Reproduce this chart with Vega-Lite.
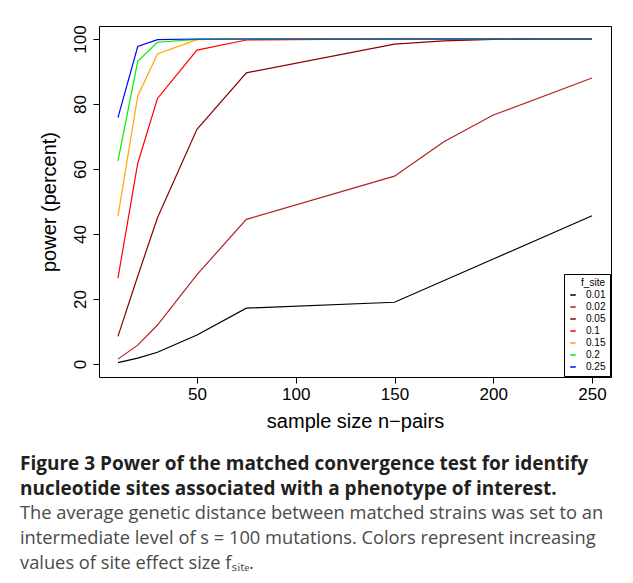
{
  "$schema": "https://vega.github.io/schema/vega-lite/v6.json",
  "autosize": {"type": "none"},
  "padding": {"left": 99, "top": 26, "right": 22, "bottom": 206},
  "width": 512,
  "height": 351,
  "background": "white",
  "title": {
    "text": ["Figure 3 Power of the matched convergence test for identify", "nucleotide sites associated with a phenotype of interest."],
    "subtitle": ["The average genetic distance between matched strains was set to an", "intermediate level of s = 100 mutations. Colors represent increasing", "values of site effect size fₛᵢₜₑ."],
    "orient": "bottom",
    "anchor": "start",
    "frame": "group",
    "dx": -79,
    "offset": 24,
    "font": "Open Sans",
    "fontSize": 19,
    "fontWeight": "bold",
    "color": "#231f20",
    "lineHeight": 25,
    "subtitleFont": "Open Sans",
    "subtitleFontSize": 18.3,
    "subtitleColor": "#4a4a4a",
    "subtitleLineHeight": 25,
    "subtitlePadding": 6
  },
  "data": {
    "values": [
      {"n": 10, "power": 0.4, "f_site": "0.01"},
      {"n": 20, "power": 1.8, "f_site": "0.01"},
      {"n": 30, "power": 3.6, "f_site": "0.01"},
      {"n": 50, "power": 8.9, "f_site": "0.01"},
      {"n": 75, "power": 17.2, "f_site": "0.01"},
      {"n": 150, "power": 19.0, "f_site": "0.01"},
      {"n": 200, "power": 32.3, "f_site": "0.01"},
      {"n": 250, "power": 45.6, "f_site": "0.01"},

      {"n": 10, "power": 1.5, "f_site": "0.02"},
      {"n": 20, "power": 5.8, "f_site": "0.02"},
      {"n": 30, "power": 12.0, "f_site": "0.02"},
      {"n": 50, "power": 27.5, "f_site": "0.02"},
      {"n": 75, "power": 44.5, "f_site": "0.02"},
      {"n": 150, "power": 57.8, "f_site": "0.02"},
      {"n": 175, "power": 68.4, "f_site": "0.02"},
      {"n": 200, "power": 76.6, "f_site": "0.02"},
      {"n": 250, "power": 88.0, "f_site": "0.02"},

      {"n": 10, "power": 8.5, "f_site": "0.05"},
      {"n": 20, "power": 27.0, "f_site": "0.05"},
      {"n": 30, "power": 45.0, "f_site": "0.05"},
      {"n": 50, "power": 72.2, "f_site": "0.05"},
      {"n": 75, "power": 89.6, "f_site": "0.05"},
      {"n": 150, "power": 98.4, "f_site": "0.05"},
      {"n": 175, "power": 99.4, "f_site": "0.05"},
      {"n": 200, "power": 99.9, "f_site": "0.05"},
      {"n": 250, "power": 100.0, "f_site": "0.05"},

      {"n": 10, "power": 26.4, "f_site": "0.1"},
      {"n": 20, "power": 61.7, "f_site": "0.1"},
      {"n": 30, "power": 81.7, "f_site": "0.1"},
      {"n": 50, "power": 96.6, "f_site": "0.1"},
      {"n": 75, "power": 99.7, "f_site": "0.1"},
      {"n": 150, "power": 100.0, "f_site": "0.1"},
      {"n": 250, "power": 100.0, "f_site": "0.1"},

      {"n": 10, "power": 45.5, "f_site": "0.15"},
      {"n": 20, "power": 82.4, "f_site": "0.15"},
      {"n": 30, "power": 95.4, "f_site": "0.15"},
      {"n": 50, "power": 99.8, "f_site": "0.15"},
      {"n": 75, "power": 100.0, "f_site": "0.15"},
      {"n": 250, "power": 100.0, "f_site": "0.15"},

      {"n": 10, "power": 62.5, "f_site": "0.2"},
      {"n": 20, "power": 93.1, "f_site": "0.2"},
      {"n": 30, "power": 99.0, "f_site": "0.2"},
      {"n": 50, "power": 99.9, "f_site": "0.2"},
      {"n": 75, "power": 100.0, "f_site": "0.2"},
      {"n": 250, "power": 100.0, "f_site": "0.2"},

      {"n": 10, "power": 75.8, "f_site": "0.25"},
      {"n": 20, "power": 97.7, "f_site": "0.25"},
      {"n": 30, "power": 99.8, "f_site": "0.25"},
      {"n": 50, "power": 100.0, "f_site": "0.25"},
      {"n": 250, "power": 100.0, "f_site": "0.25"}
    ]
  },
  "mark": {"type": "line", "strokeWidth": 1.2, "clip": true},
  "encoding": {
    "x": {
      "field": "n",
      "type": "quantitative",
      "scale": {"domain": [0.4, 259.6], "nice": false, "zero": false},
      "axis": {"values": [50, 100, 150, 200, 250], "title": "sample size n−pairs", "labelPadding": 3, "titlePadding": 9}
    },
    "y": {
      "field": "power",
      "type": "quantitative",
      "scale": {"domain": [-4, 104], "nice": false, "zero": false},
      "axis": {"values": [0, 20, 40, 60, 80, 100], "title": "power (percent)", "labelAngle": -90, "labelAlign": "center", "labelBaseline": "bottom", "labelPadding": 4, "titlePadding": 12}
    },
    "color": {
      "field": "f_site",
      "type": "nominal",
      "scale": {
        "domain": ["0.01", "0.02", "0.05", "0.1", "0.15", "0.2", "0.25"],
        "range": ["#000000", "#b22222", "#8b0000", "#ff0000", "#ffa500", "#00ee00", "#0000ff"]
      },
      "legend": {"title": "f_site"}
    },
    "order": {"field": "n", "type": "quantitative"}
  },
  "config": {
    "font": "Liberation Sans",
    "view": {"stroke": "black", "strokeWidth": 1},
    "axis": {
      "domain": false,
      "grid": false,
      "tickColor": "black",
      "tickSize": 6,
      "tickWidth": 1,
      "labelFont": "Liberation Sans",
      "labelFontSize": 17,
      "labelColor": "black",
      "titleFont": "Liberation Sans",
      "titleFontSize": 20,
      "titleFontWeight": "normal",
      "titleColor": "black"
    },
    "legend": {
      "orient": "bottom-right",
      "offset": 1,
      "strokeColor": "black",
      "fillColor": "white",
      "padding": 4,
      "symbolType": "stroke",
      "symbolSize": 30,
      "symbolStrokeWidth": 1.5,
      "labelFontSize": 10,
      "labelFont": "Liberation Sans",
      "labelColor": "black",
      "titleFont": "Liberation Sans",
      "titleFontSize": 10,
      "titleFontWeight": "normal",
      "titleColor": "black",
      "titleAnchor": "end",
      "titlePadding": 2,
      "rowPadding": 2,
      "labelOffset": 8
    }
  }
}
